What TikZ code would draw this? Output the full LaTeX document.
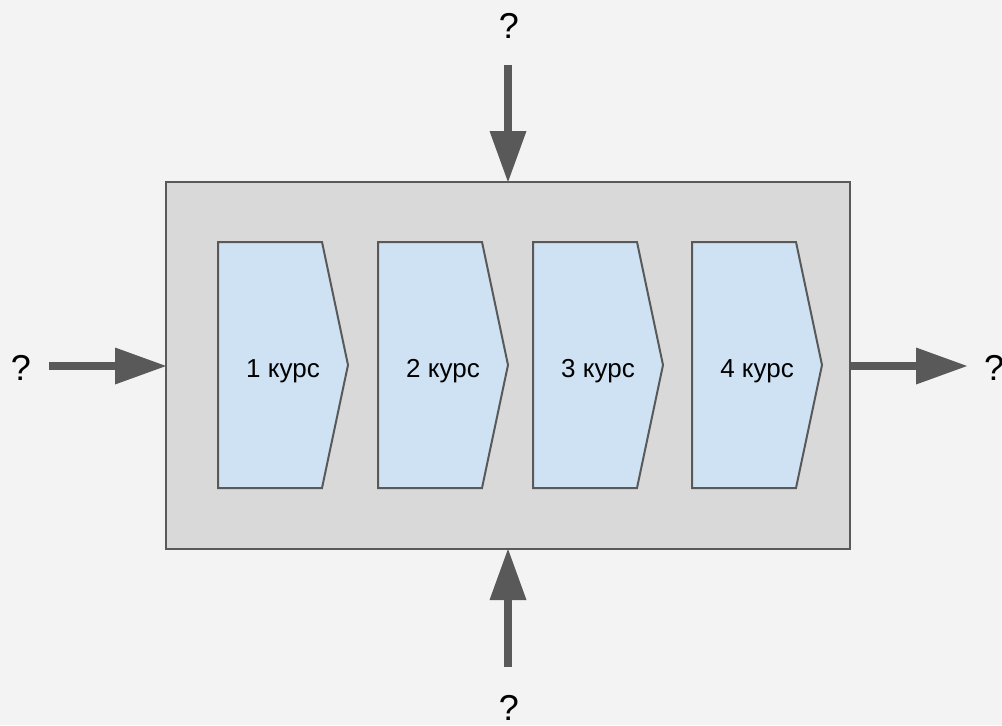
\documentclass[tikz,border=0pt]{standalone}
\usepackage{fontspec}
\setmainfont{Liberation Sans}
\usetikzlibrary{arrows.meta}

\definecolor{bgcol}{HTML}{F3F3F3}
\definecolor{boxcol}{HTML}{D9D9D9}
\definecolor{coursecol}{HTML}{CFE2F3}
\definecolor{edgecol}{HTML}{595959}

\tikzset{
  course/.style={draw=edgecol, fill=coursecol, line width=1.5pt, line join=miter},
  coursetext/.style={anchor=base, inner sep=0pt, font=\fontsize{19.5}{23}\selectfont},
  asktext/.style={anchor=base, inner sep=0pt, font=\fontsize{27}{32}\selectfont},
  bigarrow/.style={draw=edgecol, line width=6pt,
    -{Triangle[length=38.25pt, width=27.75pt, line width=0pt]}}
}

\begin{document}
\begin{tikzpicture}[x=0.75pt, y=-0.75pt]

\useasboundingbox[fill=bgcol] (0,0) rectangle (1002,725); %background

%big grey box
\node[draw=edgecol, fill=boxcol, line width=1.5pt, outer sep=0pt, inner sep=0pt,
  minimum width=513pt, minimum height=275.25pt] (box) at (508,365.5) {};

%the four courses
\foreach \x/\n in {218/1, 378/2, 533/3, 692/4}{
  \draw[course] (\x,242) -- (\x+104,242) -- (\x+130,365) -- (\x+104,488) -- (\x,488) -- cycle;
  \node[coursetext] (c\n) at (\x+65,377) {\n\ курс};
}

%question marks
\node[asktext] (askL) at (21,380) {?};
\node[asktext] (askR) at (994,380) {?};
\node[asktext] (askT) at (509,38) {?};
\node[asktext] (askB) at (509,720) {?};

%free ends of the arrows
\coordinate (inL) at (49,366);
\coordinate (outR) at (967,366);
\coordinate (inT) at (508,65);
\coordinate (inB) at (508,667);

%arrows
\draw[bigarrow] (inL) -- (box.west |- inL);
\draw[bigarrow] (box.east |- outR) -- (outR);
\draw[bigarrow] (inT) -- (box.north);
\draw[bigarrow] (inB) -- (box.south);

\end{tikzpicture}
\end{document}
